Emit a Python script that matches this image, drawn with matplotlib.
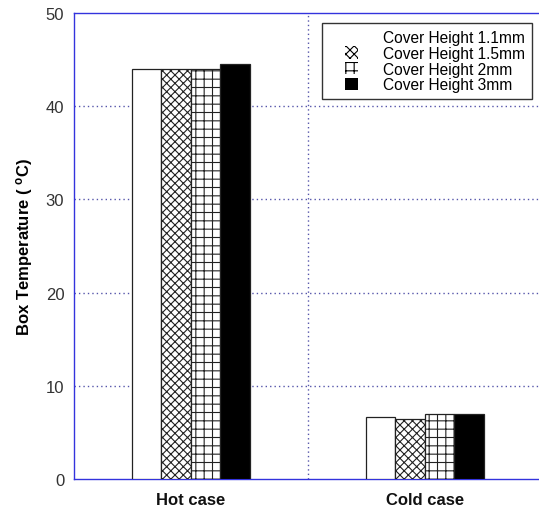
import numpy as np
import matplotlib.pyplot as plt
import matplotlib as mpl
from matplotlib.patches import Rectangle
from matplotlib.legend_handler import HandlerPatch

mpl.rcParams['font.family'] = ['Liberation Sans', 'DejaVu Sans']
mpl.rcParams['hatch.linewidth'] = 0.8

cases = ['Hot case', 'Cold case']
labels = ['Cover Height 1.1mm', 'Cover Height 1.5mm', 'Cover Height 2mm', 'Cover Height 3mm']
h11 = [44.0, 6.65]
h15 = [44.0, 6.45]
h20 = [44.0, 7.0]
h30 = [44.5, 7.0]
series = [h11, h15, h20, h30]
colors = ['white', 'white', 'white', 'black']
hatches = ['', 'xxxx', '++', '']

fig = plt.figure(figsize=(5.39, 5.10), dpi=100)
ax = fig.add_axes([0.1373, 0.0588, 0.868, 0.9137])

x = np.arange(len(cases))
w = 0.126
for i, s in enumerate(series):
    ax.bar(x + (i - 1.5) * w, s, w, color=colors[i], hatch=hatches[i],
           edgecolor='#222222', linewidth=0.9, zorder=3)

ax.set_xlim(-0.5, 1.5)
ax.set_ylim(0, 50)
ax.set_yticks([0, 10, 20, 30, 40, 50])
ax.set_xticks(x)
ax.set_xticklabels(cases, fontweight='bold', fontsize=13)
ax.tick_params(axis='both', length=0, labelsize=12, colors='#333333', pad=7)
ax.tick_params(axis='x', colors='#111111', pad=9)

for yv in [10, 20, 30, 40]:
    ax.axhline(yv, color='#5555aa', linestyle=(0, (1, 2.2)), linewidth=1.0, zorder=1)
ax.axvline(0.5, color='#5555aa', linestyle=(0, (1, 2.2)), linewidth=1.0, zorder=1)

for sp in ['left', 'bottom', 'top']:
    ax.spines[sp].set_color('#3333dd')
    ax.spines[sp].set_linewidth(1.0)
ax.spines['right'].set_visible(False)

ax.set_ylabel('Box Temperature ( $\\mathregular{^o}$C)', fontweight='bold', fontsize=12, labelpad=8)


def small_square(legend, orig_handle, xdescent, ydescent, width, height, fontsize):
    s = 0.8 * fontsize
    return Rectangle((width - s - xdescent, (height - s) / 2 - ydescent), s, s)


handles = [Rectangle((0, 0), 1, 1, facecolor=colors[i], hatch=hatches[i],
                     edgecolor='black', linewidth=0) for i in range(4)]

leg = ax.legend(handles, labels, loc='upper left', bbox_to_anchor=(322 / 539, 1 - 24 / 510),
                bbox_transform=fig.transFigure, fontsize=11.2, frameon=True,
                fancybox=False, edgecolor='black', handlelength=1.86, handleheight=0.9,
                labelspacing=0.05, borderpad=0.45, handletextpad=1.6, borderaxespad=0,
                handler_map={Rectangle: HandlerPatch(patch_func=small_square)})
leg.get_frame().set_linewidth(1.0)

plt.savefig('out.png', dpi=100)
